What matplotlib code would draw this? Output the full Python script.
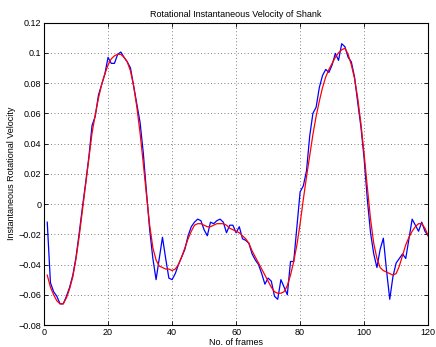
import matplotlib
matplotlib.use("Agg")
import matplotlib.pyplot as plt
import numpy as np

plt.rcParams['font.family'] = ['Liberation Sans', 'DejaVu Sans']

frames = list(range(1, 121))
raw_velocity = [
    -0.012, -0.052, -0.058, -0.061, -0.066, -0.066, -0.061, -0.055, -0.047, -0.035,
    -0.019, -0.002, 0.014, 0.031, 0.052, 0.058, 0.072, 0.079, 0.086, 0.097,
    0.093, 0.093, 0.099, 0.1005, 0.097, 0.094, 0.090, 0.078, 0.066, 0.054,
    0.034, 0.008, -0.017, -0.036, -0.050, -0.036, -0.022, -0.036, -0.049, -0.050,
    -0.046, -0.040, -0.035, -0.030, -0.021, -0.015, -0.012, -0.010, -0.011, -0.017,
    -0.021, -0.012, -0.013, -0.011, -0.010, -0.012, -0.019, -0.014, -0.014, -0.019,
    -0.015, -0.023, -0.024, -0.026, -0.033, -0.037, -0.040, -0.046, -0.053, -0.049,
    -0.051, -0.061, -0.063, -0.050, -0.055, -0.060, -0.038, -0.038, -0.015, 0.008,
    0.012, 0.022, 0.045, 0.060, 0.064, 0.077, 0.085, 0.089, 0.087, 0.092,
    0.0996, 0.095, 0.106, 0.104, 0.097, 0.094, 0.084, 0.067, 0.051, 0.030,
    0.003, -0.019, -0.033, -0.042, -0.030, -0.0226, -0.044, -0.063, -0.048, -0.039,
    -0.036, -0.033, -0.036, -0.023, -0.010, -0.014, -0.018, -0.012, -0.018, -0.021,
]
smoothed_velocity = [
    -0.047, -0.055, -0.060, -0.064, -0.066, -0.066, -0.062, -0.056, -0.048, -0.036,
    -0.021, -0.004, 0.013, 0.030, 0.047, 0.059, 0.070, 0.079, 0.086, 0.092,
    0.096, 0.098, 0.099, 0.099, 0.097, 0.094, 0.088, 0.078, 0.064, 0.047,
    0.027, 0.006, -0.014, -0.029, -0.037, -0.041, -0.042, -0.043, -0.043, -0.044,
    -0.043, -0.040, -0.035, -0.029, -0.023, -0.018, -0.014, -0.013, -0.013, -0.014,
    -0.015, -0.015, -0.014, -0.013, -0.013, -0.013, -0.014, -0.016, -0.017, -0.018,
    -0.019, -0.021, -0.023, -0.026, -0.031, -0.035, -0.039, -0.043, -0.047, -0.051,
    -0.055, -0.058, -0.059, -0.059, -0.058, -0.054, -0.047, -0.038, -0.027, -0.013,
    0.003, 0.018, 0.032, 0.046, 0.058, 0.068, 0.077, 0.084, 0.089, 0.093,
    0.097, 0.100, 0.102, 0.103, 0.099, 0.092, 0.083, 0.070, 0.053, 0.033,
    0.011, -0.010, -0.026, -0.036, -0.042, -0.044, -0.045, -0.046, -0.047, -0.046,
    -0.041, -0.034, -0.027, -0.022, -0.018, -0.015, -0.013, -0.013, -0.016, -0.021,
]
x_ticks = [0, 20, 40, 60, 80, 100, 120]
y_ticks = [-0.08, -0.06, -0.04, -0.02, 0, 0.02, 0.04, 0.06, 0.08, 0.1, 0.12]
y_tick_labels = ["\u22120.08", "\u22120.06", "\u22120.04", "\u22120.02", "0",
                 "0.02", "0.04", "0.06", "0.08", "0.1", "0.12"]

fig = plt.figure(figsize=(4.36, 3.47), dpi=100)
ax = fig.add_axes([0.101, 0.0634, 0.881, 0.8716])
ax.plot(frames, raw_velocity, color='#0000ff', lw=0.9)
ax.plot(frames, smoothed_velocity, color='#ff0000', lw=0.9)
ax.set_xlim(0, 120)
ax.set_ylim(-0.08, 0.12)
ax.set_xticks(x_ticks)
ax.set_xticklabels([str(t) for t in x_ticks])
ax.set_yticks(y_ticks)
ax.set_yticklabels(y_tick_labels)
ax.tick_params(direction='in', length=3, width=0.6, labelsize=6.5, top=True, right=True, pad=2)
ax.grid(True, linestyle=(0, (1, 3)), color='#555555', linewidth=0.6)
for s in ax.spines.values():
    s.set_linewidth(0.8)
ax.set_title("Rotational Instantaneous Velocity of Shank", fontsize=6.5, pad=4)
ax.set_xlabel("No. of frames", fontsize=6.5, labelpad=1)
ax.set_ylabel("Instantaneous Rotational Velocity", fontsize=6.5, labelpad=2)
fig.savefig("out.png", dpi=100)
